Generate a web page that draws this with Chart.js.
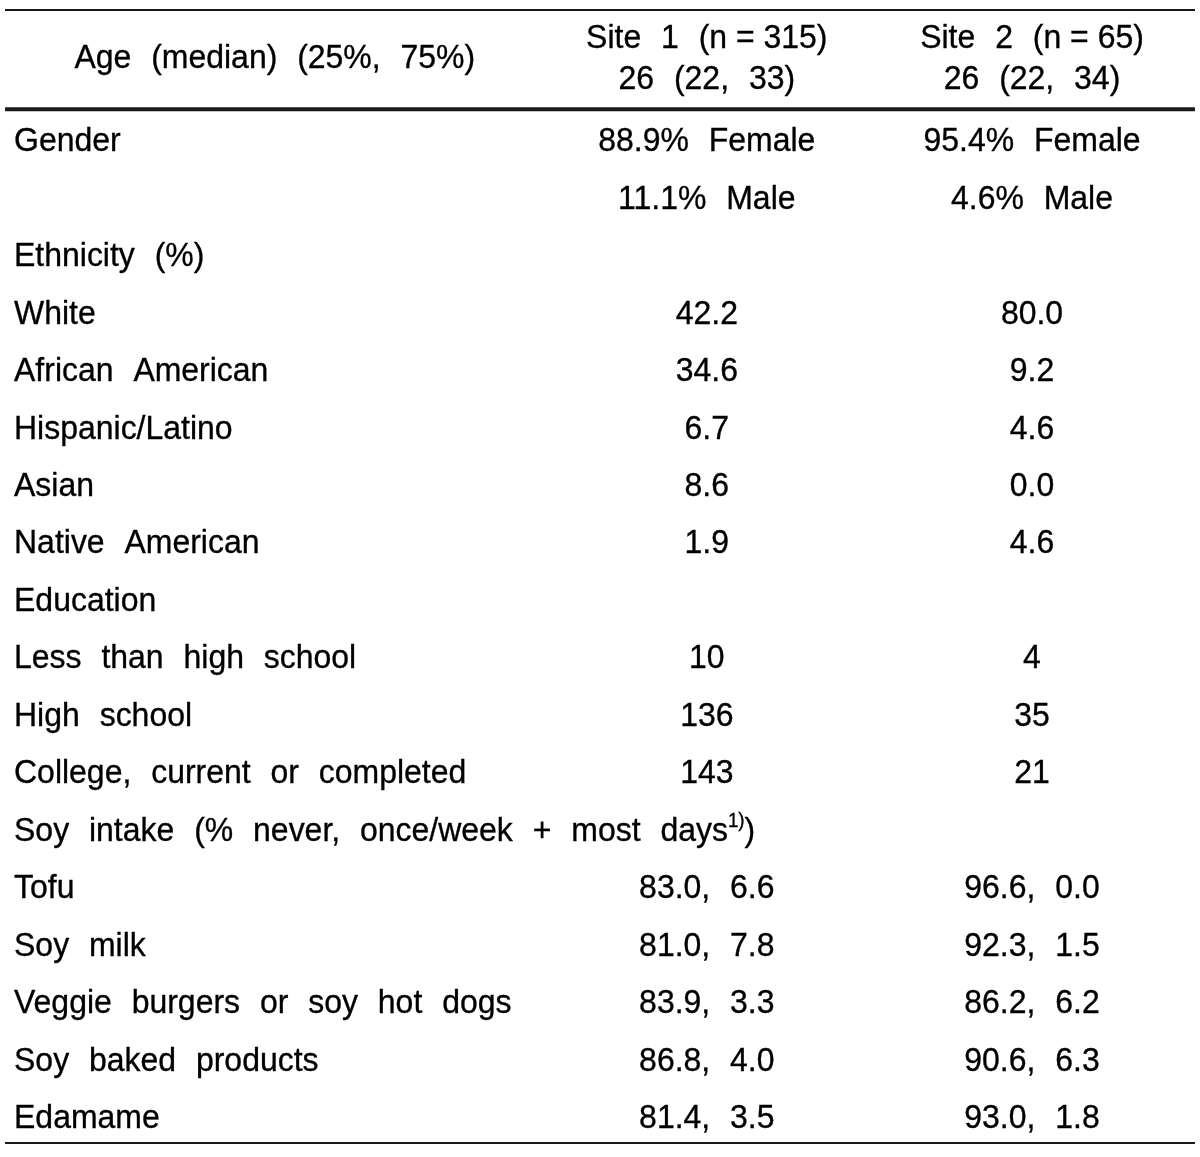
<!DOCTYPE html>
<html>
<head>
<meta charset="utf-8">
<script src="https://cdn.jsdelivr.net/npm/chart.js@4.4.1/dist/chart.umd.min.js"></script>
<style>
  html, body { margin: 0; padding: 0; background: #fff; }
  canvas { display: block; }
</style>
</head>
<body>
<canvas id="table" width="1200" height="1157"></canvas>
<script>
// header values
const siteNames = ["Site 1", "Site 2"];
const siteN = [315, 65];
const ageMedian = [26, 26];
const ageQ1 = [22, 22];
const ageQ3 = [33, 34];

// row labels (text in {} is drawn as superscript)
const rowLabels = [
  "Gender", "", "Ethnicity (%)", "White", "African American", "Hispanic/Latino",
  "Asian", "Native American", "Education", "Less than high school", "High school",
  "College, current or completed", "Soy intake (% never, once/week + most days{1)})",
  "Tofu", "Soy milk", "Veggie burgers or soy hot dogs", "Soy baked products", "Edamame"
];

const femalePct = [88.9, 95.4];
const malePct = [11.1, 4.6];
const ethnicity1 = [42.2, 34.6, 6.7, 8.6, 1.9];
const ethnicity2 = [80.0, 9.2, 4.6, 0.0, 4.6];
const education1 = [10, 136, 143];
const education2 = [4, 35, 21];
const soyNever1 = [83.0, 81.0, 83.9, 86.8, 81.4];
const soyWeekly1 = [6.6, 7.8, 3.3, 4.0, 3.5];
const soyNever2 = [96.6, 92.3, 86.2, 90.6, 93.0];
const soyWeekly2 = [0.0, 1.5, 6.2, 6.3, 1.8];

function siteColumn(s, eth, edu, never, weekly) {
  return [
    femalePct[s].toFixed(1) + "% Female",
    malePct[s].toFixed(1) + "% Male",
    ""
  ].concat(eth.map(v => v.toFixed(1)), [""], edu.map(v => String(v)), [""],
    never.map((v, i) => v.toFixed(1) + ", " + weekly[i].toFixed(1)));
}
const site1Cells = siteColumn(0, ethnicity1, education1, soyNever1, soyWeekly1);
const site2Cells = siteColumn(1, ethnicity2, education2, soyNever2, soyWeekly2);

// layout (x in percent of width, y in row units)
const colX = [1.17, 58.9, 86.0];
const ageHeaderX = 22.9;
const headerRows = [-1.79, -1.09];
const ageHeaderRow = -1.44;
const rules = [
  { at: -2.245, width: 2 },
  { at: -0.52, width: 4 },
  { at: 17.47, width: 2 }
];
const ruleFrom = 0.42, ruleTo = 99.58;

const FONT = "Liberation Sans, Arial, Helvetica, sans-serif";
const SIZE = 34;
const SUP_SIZE = 20;
const SX = 0.94; // narrow the glyphs a little, like the source font
const EXTRA_GAP = 11;

function parseWord(w) {
  const segs = [];
  const re = /\{([^}]*)\}/g;
  let last = 0, m;
  while ((m = re.exec(w)) !== null) {
    if (m.index > last) segs.push({ t: w.slice(last, m.index), sup: false });
    segs.push({ t: m[1], sup: true });
    last = re.lastIndex;
  }
  if (last < w.length) segs.push({ t: w.slice(last), sup: false });
  return segs;
}

function drawText(ctx, text, x, yMid, align) {
  if (!text) return;
  const words = text.split(" ").map(parseWord);
  ctx.font = SIZE + "px " + FONT;
  const space = ctx.measureText(" ").width * SX + EXTRA_GAP;
  const widths = words.map(segs => segs.reduce((s, seg) => {
    ctx.font = (seg.sup ? SUP_SIZE : SIZE) + "px " + FONT;
    return s + ctx.measureText(seg.t).width * SX;
  }, 0));
  const total = widths.reduce((a, b) => a + b, 0) + space * (words.length - 1);
  let cx = align === "center" ? x - total / 2 : x;
  const base = yMid + SIZE * 0.358;
  ctx.textAlign = "left";
  ctx.textBaseline = "alphabetic";
  ctx.lineWidth = 0.35;
  words.forEach(segs => {
    segs.forEach(seg => {
      ctx.font = (seg.sup ? SUP_SIZE : SIZE) + "px " + FONT;
      const y = seg.sup ? base - 14 : base;
      ctx.save();
      ctx.translate(cx, y);
      ctx.scale(SX, 1);
      ctx.fillText(seg.t, 0, 0);
      ctx.strokeText(seg.t, 0, 0);
      ctx.restore();
      cx += ctx.measureText(seg.t).width * SX;
    });
    cx += space;
  });
}

const tablePlugin = {
  id: "tableText",
  afterDatasetsDraw(chart) {
    const ctx = chart.ctx;
    const xs = chart.scales.x, ys = chart.scales.y;
    ctx.save();

    // rules
    ctx.strokeStyle = "#1a1a1a";
    rules.forEach(r => {
      ctx.lineWidth = r.width;
      const y = ys.getPixelForValue(r.at);
      ctx.beginPath();
      ctx.moveTo(xs.getPixelForValue(ruleFrom), y);
      ctx.lineTo(xs.getPixelForValue(ruleTo), y);
      ctx.stroke();
    });

    ctx.fillStyle = "#000";
    ctx.strokeStyle = "#000";

    // header
    drawText(ctx, "Age (median) (25%, 75%)", xs.getPixelForValue(ageHeaderX),
      ys.getPixelForValue(ageHeaderRow), "center");
    siteNames.forEach((name, s) => {
      const x = xs.getPixelForValue(colX[s + 1]);
      drawText(ctx, name + " (n\u00a0=\u00a0" + siteN[s] + ")", x,
        ys.getPixelForValue(headerRows[0]), "center");
      drawText(ctx, ageMedian[s] + " (" + ageQ1[s] + ", " + ageQ3[s] + ")", x,
        ys.getPixelForValue(headerRows[1]), "center");
    });

    // body cells at the dataset points
    chart.data.datasets.forEach((ds, di) => {
      const meta = chart.getDatasetMeta(di);
      meta.data.forEach((pt, i) => {
        drawText(ctx, ds.texts[i], pt.x, pt.y, ds.align);
      });
    });
    ctx.restore();
  }
};

function column(texts, col, align) {
  return {
    data: texts.map((t, i) => ({ x: colX[col], y: i })),
    texts: texts,
    align: align,
    pointRadius: 0,
    pointHoverRadius: 0
  };
}

new Chart(document.getElementById("table"), {
  type: "scatter",
  data: {
    datasets: [
      column(rowLabels, 0, "left"),
      column(site1Cells, 1, "center"),
      column(site2Cells, 2, "center")
    ]
  },
  options: {
    responsive: false,
    animation: false,
    events: [],
    layout: { padding: 0 },
    plugins: { legend: { display: false }, tooltip: { enabled: false } },
    scales: {
      x: { type: "linear", min: 0, max: 100, display: false },
      y: { type: "linear", min: -2.419, max: 17.713, reverse: true, display: false }
    }
  },
  plugins: [tablePlugin]
});
</script>
</body>
</html>
